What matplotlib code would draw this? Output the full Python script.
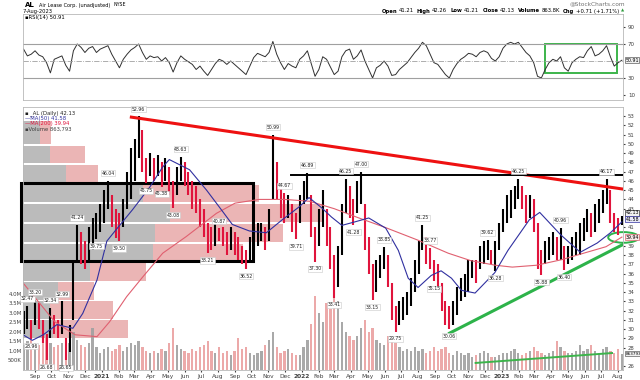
import matplotlib
matplotlib.use('Agg')
import matplotlib.pyplot as plt
import matplotlib.dates as mdates
from matplotlib.patches import Rectangle, Ellipse
import pandas as pd
import numpy as np

plt.rcParams['font.family'] = 'DejaVu Sans'

# weekly bars, Aug 10 2020 .. Aug 7 2023
weeks = pd.date_range('2020-08-10', periods=157, freq='7D') + pd.Timedelta(days=1)

wk_high = [32.0, 32.47, 31.0, 33.2, 32.8, 31.0, 29.5, 32.34, 31.5, 31.0,
           32.99, 29.0, 30.5, 37.5, 41.24, 40.5, 39.5, 41.0, 42.0, 42.5,
           43.5, 45.0, 46.04, 44.5, 43.0, 42.5, 44.0, 47.0, 49.5, 50.5,
           52.96, 51.5, 48.5, 49.0, 48.5, 48.8, 48.0, 48.5, 47.5, 46.0,
           47.5, 48.63, 48.0, 47.0, 46.0, 45.5, 44.0, 43.0, 41.5, 41.0,
           41.5, 40.87, 41.0, 40.5, 41.0, 40.5, 40.0, 39.0, 38.5, 40.0,
           41.0, 41.5, 41.5, 41.0, 43.0, 50.99, 48.0, 45.5, 44.67, 44.5,
           43.5, 42.5, 44.5, 46.0, 46.89, 44.5, 41.0, 43.0, 45.0, 43.0,
           41.0, 38.0, 39.0, 43.5, 46.25, 45.5, 44.0, 46.0, 47.0, 43.5,
           40.0, 37.0, 37.5, 38.0, 38.85, 38.0, 35.0, 32.5, 33.0, 33.5,
           34.0, 35.5, 37.5, 39.5, 41.25, 40.0, 38.77, 37.5, 37.0, 35.0,
           33.0, 32.5, 33.0, 34.5, 35.5, 36.0, 37.5, 37.5, 37.5, 39.0,
           39.5, 39.62, 38.5, 39.5, 41.5, 43.0, 44.5, 45.0, 45.5, 46.25,
           45.5, 44.5, 44.5, 44.0, 41.5, 38.5, 39.5, 40.0, 40.5, 40.0,
           40.96, 39.0, 39.0, 40.0, 40.5, 41.5, 42.0, 43.0, 42.5, 43.5,
           44.0, 45.0, 46.17, 45.0, 42.5, 42.0, 42.25]
wk_low = [29.5, 30.0, 28.96, 30.5, 30.0, 28.5, 26.68, 29.0, 29.5, 29.0,
          29.5, 26.65, 27.5, 31.0, 37.5, 37.0, 36.5, 37.5, 38.5, 39.75,
          40.5, 41.5, 43.0, 41.0, 39.8, 39.5, 41.0, 43.0, 44.0, 46.0,
          48.5, 47.0, 45.75, 46.5, 46.0, 46.5, 45.38, 46.0, 44.5, 43.08,
          44.5, 46.0, 45.5, 44.5, 43.0, 42.5, 41.0, 40.0, 38.21, 38.5,
          39.0, 39.5, 39.0, 38.0, 38.5, 38.0, 37.5, 37.0, 36.52, 37.5,
          38.5, 39.0, 39.5, 38.5, 39.5, 44.0, 44.0, 42.0, 41.5, 42.0,
          40.5, 39.71, 41.5, 43.5, 44.0, 40.0, 37.3, 39.0, 41.0, 39.0,
          36.5, 33.41, 34.5, 38.0, 42.5, 42.0, 41.28, 42.5, 43.5, 38.5,
          36.0, 33.15, 34.0, 35.5, 36.5, 34.5, 31.0, 29.75, 30.5, 31.0,
          31.5, 32.5, 34.0, 36.0, 38.5, 37.0, 36.5, 35.15, 34.5, 32.0,
          30.5, 30.06, 30.5, 31.5, 33.0, 33.5, 34.0, 35.5, 35.0, 36.5,
          37.0, 37.5, 37.0, 36.28, 38.5, 40.5, 41.5, 42.0, 43.0, 44.0,
          43.0, 41.5, 42.0, 40.5, 36.5, 35.88, 37.0, 37.5, 38.0, 37.5,
          37.5, 36.4, 37.0, 37.5, 38.0, 38.0, 39.5, 40.5, 40.0, 40.5,
          41.5, 42.5, 43.5, 41.5, 40.5, 40.2, 41.21]
wk_vol = [1.3, 1.5, 1.6, 1.4, 1.3, 1.5, 1.7, 1.4, 1.2, 1.3, 1.4, 1.6, 1.4,
          2.0, 1.6, 1.3, 1.2, 1.4, 2.2, 1.2, 0.9, 1.1, 1.2, 1.0, 1.1, 1.3,
          1.0, 1.2, 1.4, 1.3, 1.5, 1.2, 1.0, 0.9, 1.0, 0.9, 1.1, 1.0, 1.4,
          2.2, 1.3, 1.1, 1.0, 0.9, 1.1, 1.0, 1.2, 1.3, 1.5, 1.0, 0.9, 1.2,
          0.9, 1.0, 0.8, 1.0, 1.7, 1.1, 1.2, 0.9, 0.8, 0.9, 1.0, 1.3, 1.6,
          2.0, 1.2, 0.9, 1.0, 1.1, 0.9, 0.8, 0.8, 1.2, 1.6, 2.4, 3.9, 3.0,
          2.5, 3.5, 3.2, 4.0, 3.6, 2.5, 2.0, 1.8, 1.6, 1.8, 2.2, 2.6, 2.0,
          2.2, 1.6, 1.4, 1.3, 1.8, 1.6, 1.4, 1.2, 1.0, 1.1, 1.0, 1.2, 1.0,
          1.1, 0.9, 1.0, 1.2, 1.0, 1.1, 1.2, 0.9, 0.8, 1.0, 0.9, 0.8, 0.9,
          0.7, 0.8, 0.9, 1.0, 0.9, 0.7, 0.7, 0.8, 0.9, 0.9, 1.0, 1.1, 0.9,
          0.8, 0.9, 1.0, 1.2, 1.0, 0.9, 0.8, 0.9, 1.0, 1.5, 1.2, 1.0, 0.9,
          0.9, 1.0, 1.3, 1.0, 1.1, 1.3, 1.0, 0.9, 1.1, 1.2, 1.0, 0.9, 1.1, 0.86]
rsi = [64, 56, 58, 62, 57, 55, 48, 36, 52, 54, 56, 45, 38, 62, 70, 66, 60, 65, 67, 60,
       64, 66, 68, 58, 50, 42, 52, 58, 63, 66, 70, 60, 52, 56, 54, 55, 50, 54, 48, 37,
       48, 56, 52, 49, 46, 40, 44, 38, 33, 40, 47, 52, 50, 46, 50, 46, 42, 38, 34, 44,
       54, 59, 57, 55, 60, 73, 58, 48, 40, 47, 44, 42, 52, 56, 62, 47, 32, 40, 55, 52,
       43, 34, 38, 55, 62, 64, 52, 56, 63, 50, 40, 30, 42, 45, 50, 44, 33, 34, 40, 44,
       48, 54, 60, 65, 72, 68, 58, 48, 46, 40, 34, 30, 40, 47, 52, 55, 59, 58, 55, 60,
       62, 60, 53, 50, 55, 65, 70, 72, 70, 72, 66, 60, 56, 48, 32, 30, 40, 48, 52, 50,
       55, 42, 38, 48, 52, 55, 54, 62, 67, 56, 58, 62, 68, 55, 44, 48, 50.91]

ma50_dates = pd.to_datetime([
    '2020-08-10', '2020-08-27', '2020-09-16', '2020-10-11', '2020-11-09', '2020-11-27',
    '2020-12-23', '2021-01-10', '2021-01-25', '2021-02-26', '2021-03-29', '2021-04-22',
    '2021-05-04', '2021-06-10', '2021-07-11', '2021-08-03', '2021-08-27', '2021-09-27',
    '2021-10-28', '2021-11-26', '2021-12-27', '2022-01-14', '2022-02-06', '2022-02-24',
    '2022-03-15', '2022-04-09', '2022-05-03', '2022-06-03', '2022-06-26', '2022-07-14',
    '2022-08-01', '2022-08-25', '2022-09-12', '2022-10-01', '2022-10-19', '2022-11-13',
    '2022-12-19', '2023-01-12', '2023-01-25', '2023-02-20', '2023-03-11', '2023-04-18',
    '2023-05-24', '2023-06-24', '2023-07-18', '2023-08-08'])
ma50_vals = [29.4, 28.8, 29.4, 30.5, 30.1, 31.7, 35.3, 39.5, 40.6, 42.9, 45.3, 47.5,
             48.3, 47.2, 45.0, 43.2, 41.3, 40.6, 40.4, 41.8, 43.2, 44.2, 43.1, 42.1,
             41.2, 41.6, 42.0, 40.9, 38.5, 35.5, 34.5, 35.8, 36.3, 35.5, 34.2, 33.9,
             36.1, 38.5, 39.6, 41.8, 42.6, 40.2, 38.3, 39.3, 40.4, 41.58]
ma200_dates = pd.to_datetime([
    '2020-08-10', '2020-10-07', '2020-11-13', '2020-12-23', '2021-01-15', '2021-02-15',
    '2021-03-16', '2021-04-22', '2021-06-04', '2021-07-29', '2021-09-01', '2021-10-15',
    '2021-12-01', '2022-01-15', '2022-03-01', '2022-04-15', '2022-06-01', '2022-08-01',
    '2022-09-25', '2022-11-05', '2022-12-20', '2023-01-20', '2023-03-05', '2023-04-20',
    '2023-06-05', '2023-07-10', '2023-08-08'])
ma200_vals = [35.0, 30.8, 29.4, 29.2, 30.8, 33.5, 35.6, 38.2, 40.0, 42.5, 43.6, 44.0,
              44.0, 43.8, 43.0, 42.0, 41.0, 39.6, 38.2, 37.4, 36.9, 36.7, 36.9, 37.5,
              38.3, 38.9, 39.94]

# volume by price zones
vbp_lo = [50.0, 47.9, 45.9, 43.7, 41.6, 39.4, 37.3, 35.2, 33.2, 31.1, 29.1]
vbp_hi = [52.5, 49.8, 47.7, 45.6, 43.5, 41.4, 39.2, 37.1, 35.1, 33.0, 31.0]
vbp_up = [17, 27, 43, 120, 147, 132, 130, 67, 35, 27, 30]
vbp_dn = [11, 35, 32, 116, 152, 128, 90, 56, 36, 63, 75]

# price labels: week index, value, above?
lab_week = [1, 2, 3, 6, 7, 10, 11, 14, 19, 22, 25, 30, 32, 36, 39, 41, 48, 51, 58, 65,
            68, 71, 74, 76, 81, 84, 86, 88, 91, 94, 97, 104, 106, 107, 111, 121, 123,
            129, 135, 140, 141, 152]
lab_val = [32.47, 28.96, 33.20, 26.68, 32.34, 32.99, 26.65, 41.24, 39.75, 46.04, 39.50,
           52.96, 45.75, 45.38, 43.08, 48.63, 38.21, 40.87, 36.52, 50.99, 44.67, 39.71,
           46.89, 37.30, 33.41, 46.25, 41.28, 47.00, 33.15, 38.85, 29.75, 41.25, 38.77,
           35.15, 30.06, 39.62, 36.28, 46.25, 35.88, 40.96, 36.40, 46.17]
lab_up = [1, 0, 1, 0, 1, 1, 0, 1, 0, 1, 0, 1, 0, 0, 0, 1, 0, 1, 0, 1,
          1, 0, 1, 0, 0, 1, 0, 1, 0, 1, 0, 1, 1, 0, 0, 1, 0, 1, 0, 1, 0, 1]

# drawn annotations
red_tl_x = pd.to_datetime(['2021-02-21', '2023-08-12'])
red_tl_y = [52.9, 45.1]
black_tl_x = pd.to_datetime(['2021-12-12', '2023-08-12'])
black_tl_y = [46.6, 46.6]
green_tl_x = pd.to_datetime(['2022-09-25', '2023-08-12'])
green_tl_y = [29.5, 39.2]
vol_tl_x = pd.to_datetime(['2022-11-14', '2023-07-21'])
vol_tl_y = [0.37, 0.89]
box_x = pd.to_datetime(['2020-08-06', '2021-10-04'])
box_y = [37.36, 45.77]
rsi_box_x = pd.to_datetime(['2023-03-21', '2023-07-30'])
rsi_box_y = [35.5, 69.5]

months = pd.date_range('2020-09-01', '2023-08-01', freq='MS')
xlim = (pd.Timestamp('2020-08-10'), pd.Timestamp('2023-08-10'))

RED = '#e0143c'
BLUE = '#3030a0'
PINK = '#e06070'
GRID = '#b8b8b8'

fig = plt.figure(figsize=(6.4, 3.8), dpi=100)
W, H = 640.0, 380.0


def rect(l, t, r, b):
    return [l / W, 1 - b / H, (r - l) / W, (b - t) / H]


def vbox(axis, frac, s, ec='#606060', fc='#f0f0f0', size=3.4):
    axis.text(1.004, frac, s, transform=axis.transAxes, fontsize=size, va='center',
              ha='left', bbox=dict(boxstyle='square,pad=0.12', fc=fc, ec=ec, lw=0.5))


# ---------- RSI panel ----------
axr = fig.add_axes(rect(23, 14, 623, 100))
axr.plot(weeks, rsi, color='#303030', lw=0.7)
axr.axhline(70, color='#a0a0a0', lw=0.8)
axr.axhline(30, color='#a0a0a0', lw=0.8)
axr.axhline(50, color='#a0a0a0', lw=0.6, ls='-.')
rx0, rx1 = mdates.date2num(rsi_box_x[0]), mdates.date2num(rsi_box_x[1])
axr.add_patch(Rectangle((rx0, rsi_box_y[0]), rx1 - rx0, rsi_box_y[1] - rsi_box_y[0],
                        fill=False, ec='#3cb44b', lw=1.4))
axr.set_xlim(*xlim)
axr.set_ylim(4.1, 105.3)
axr.yaxis.tick_right()
axr.set_yticks([10, 30, 70, 90])
axr.tick_params(axis='y', labelsize=4.0, length=1.5, pad=2, colors='#404040')
axr.set_xticks([])
for s in axr.spines.values():
    s.set_color(GRID)
    s.set_linewidth(0.6)
vbox(axr, (rsi[-1] - 4.1) / (105.3 - 4.1), '%.2f' % rsi[-1])

# ---------- volume by price (back layer) ----------
axb = fig.add_axes(rect(23, 107, 623, 370))
for lo, hi, u, d in zip(vbp_lo, vbp_hi, vbp_up, vbp_dn):
    axb.barh((lo + hi) / 2, u, height=hi - lo, left=0, color='#b0b0b0', alpha=0.85, lw=0)
    axb.barh((lo + hi) / 2, d, height=hi - lo, left=u, color='#e8a8a8', alpha=0.85, lw=0)
axb.set_xlim(0, 600)
axb.set_ylim(25.6, 53.97)
axb.axis('off')

# ---------- volume ----------
axv = fig.add_axes(rect(23, 107, 623, 370))
axv.patch.set_visible(False)
mid = [(h + l) / 2 for h, l in zip(wk_high, wk_low)]
vcol = ['#a0a0a0' if i == 0 or mid[i] >= mid[i - 1] else '#eaa0a0' for i in range(len(mid))]
axv.bar(weeks, wk_vol, width=4.2, color=vcol, alpha=0.9, lw=0)
axv.plot(vol_tl_x, vol_tl_y, color='#3cb44b', lw=1.4)
axv.set_xlim(*xlim)
axv.set_ylim(0, 13.8)
axv.set_yticks([0.5, 1, 1.5, 2, 2.5, 3, 3.5, 4])
axv.set_yticklabels(['500K', '1.0M', '1.5M', '2.0M', '2.5M', '3.0M', '3.5M', '4.0M'])
axv.tick_params(axis='y', labelsize=3.9, length=0, pad=1, colors='#404040')
axv.set_xticks([])
for s in axv.spines.values():
    s.set_visible(False)
vbox(axv, 0.86 / 13.8, '863793', size=3.0)

# ---------- price ----------
ax = fig.add_axes(rect(23, 107, 623, 370))
ax.patch.set_visible(False)
ccol = ['#000000' if i == 0 or mid[i] >= mid[i - 1] else RED for i in range(len(mid))]
ax.vlines(weeks, wk_low, wk_high, colors=ccol, lw=1.5)
ax.plot(ma200_dates, ma200_vals, color=PINK, lw=0.8)
ax.plot(ma50_dates, ma50_vals, color=BLUE, lw=0.8)

ax.plot(red_tl_x, red_tl_y, color='#ee1111', lw=2.2, solid_capstyle='butt')
ax.plot(black_tl_x, black_tl_y, color='black', lw=1.4)
ax.plot(green_tl_x, green_tl_y, color='#2db34a', lw=2.2, solid_capstyle='butt')
bx0, bx1 = mdates.date2num(box_x[0]), mdates.date2num(box_x[1])
ax.add_patch(Rectangle((bx0, box_y[0]), bx1 - bx0, box_y[1] - box_y[0],
                       fill=False, ec='black', lw=2.2, clip_on=False))

for wi, v, up in zip(lab_week, lab_val, lab_up):
    ax.annotate('%.2f' % v, (weeks[wi], v), xytext=(0, 3.5 if up else -3.5),
                textcoords='offset points', ha='center', va='bottom' if up else 'top',
                fontsize=3.3, color='#202020',
                bbox=dict(boxstyle='square,pad=0.12', fc='white', ec='#c8c8c8', lw=0.4))

ylo, yhi = 25.6, 53.97
ax.set_xlim(*xlim)
ax.set_ylim(ylo, yhi)
ax.yaxis.tick_right()
price_ticks = [p for p in range(26, 54) if p not in (27, 40, 42)]
ax.set_yticks(price_ticks)
ax.tick_params(axis='y', labelsize=3.9, length=1.5, pad=2, colors='#404040')
ax.set_xticks(months)
ax.set_xticklabels([m.strftime('%Y') if m.month == 1 else m.strftime('%b') for m in months])
ax.tick_params(axis='x', labelsize=4.2, length=1.5, pad=1.5, colors='#404040')
for t, m in zip(ax.get_xticklabels(), months):
    if m.month == 1:
        t.set_fontweight('bold')
for s in ax.spines.values():
    s.set_color(GRID)
    s.set_linewidth(0.6)

# right value boxes
vbox(ax, (42.13 + 0.42 - ylo) / (yhi - ylo), '42.13', ec='#303030')
vbox(ax, (41.58 + 0.27 - ylo) / (yhi - ylo), '41.58', ec=BLUE, fc='#e8e8f8')
vbox(ax, (39.94 - ylo) / (yhi - ylo), '39.94', ec=PINK, fc='#f8e8e8')
ell = Ellipse((mdates.date2num(pd.Timestamp('2023-08-11')), 39.9), 56, 1.15,
              fill=False, ec='#2db34a', lw=1.4, clip_on=False)
ax.add_patch(ell)

# legend block
leg = [('\u25aa _AL (Daily) 42.13', '#202020'), ('\u2014MA(50) 41.58', BLUE),
       ('\u2014MA(200) 39.94', RED), ('\u25aaVolume 863,793', '#404040')]
for k, (s, c) in enumerate(leg):
    ax.text(0.004, 0.988 - 0.021 * k, s, transform=ax.transAxes, fontsize=3.8,
            va='top', color=c)

# ---------- header ----------
renderer = fig.canvas.get_renderer()


def flow(x, y, pieces):
    # place text pieces left to right, measuring each
    for s, kw, gap in pieces:
        t = fig.text(x / W, 1 - y / H, s, va='center', **kw)
        x += t.get_window_extent(renderer).width + gap


def flow_right(x, y, pieces):
    # place text pieces right to left, ending at x
    for s, kw, gap in reversed(pieces):
        t = fig.text(x / W, 1 - y / H, s, va='center', ha='right', **kw)
        x -= t.get_window_extent(renderer).width + gap


flow(25, 5, [('AL', dict(fontsize=5.0, fontweight='bold'), 4),
             ('Air Lease Corp. (unadjusted)', dict(fontsize=3.6), 3),
             ('NYSE', dict(fontsize=3.4), 0)])
fig.text(23 / W, 1 - 11 / H, '7-Aug-2023', va='center', fontsize=3.7)
fig.text(25 / W, 1 - 18 / H, '\u25aaRSI(14) 50.91', va='center', fontsize=3.8)
fig.text(625 / W, 1 - 4 / H, '@StockCharts.com', va='center', ha='right', fontsize=4.2,
         color='#707070')
B = dict(fontsize=3.8, fontweight='bold')
N = dict(fontsize=3.8)
flow_right(624, 11, [('Open', B, 3.5), ('41.21', N, 1.2), ('High', B, 3.5), ('42.26', N, 1.2),
                     ('Low', B, 3.5), ('41.21', N, 1.2), ('Close', B, 3.5), ('42.13', N, 1.2),
                     ('Volume', B, 3.5), ('863.8K', N, 1.2), ('Chg', B, 3.5),
                     ('+0.71 (+1.71%)', N, 1.2),
                     ('\u25b2', dict(fontsize=3.0, color='#2a9a3a'), 2)])

fig.savefig('out.png', dpi=100)
